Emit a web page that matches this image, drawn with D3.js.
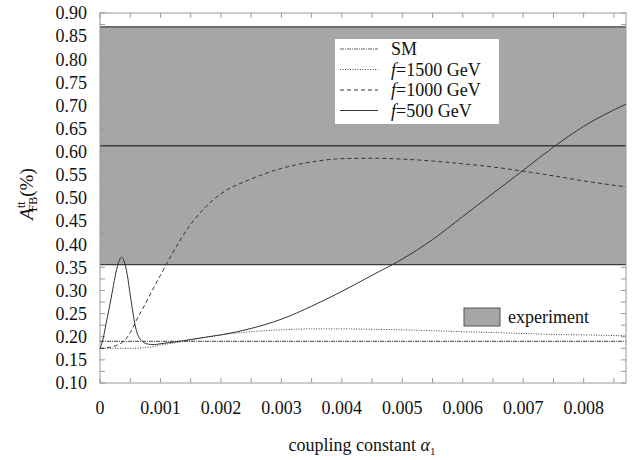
<!DOCTYPE html>
<html>
<head>
<meta charset="utf-8">
<script src="https://cdn.jsdelivr.net/npm/d3@7"></script>
<style>
  body { margin: 0; background: #fff; }
  svg, svg text, svg tspan { font-family: "Liberation Serif", "Times New Roman", Tinos, "Noto Serif", "DejaVu Serif", serif; }
</style>
</head>
<body>
<svg id="root" width="632" height="460"></svg>
<script>
// coupling constant values (x)
var alpha = [0, 0.00005, 0.0001, 0.00015, 0.0002, 0.00025, 0.0003, 0.00036, 0.0004, 0.00045,
  0.0005, 0.00055, 0.0006, 0.0007, 0.0008, 0.0009, 0.001, 0.0012, 0.0015, 0.00175, 0.002, 0.0025,
  0.003, 0.0035, 0.004, 0.0045, 0.005, 0.0055, 0.006, 0.0065, 0.007, 0.0075, 0.008, 0.0087];

var smValue = 0.19;
var f1500 = [0.175, 0.175, 0.175, 0.175, 0.175, 0.175, 0.175, 0.175, 0.175, 0.175,
  0.175, 0.175, 0.175, 0.176, 0.177, 0.179, 0.182, 0.186, 0.193, 0.199, 0.204, 0.211,
  0.215, 0.217, 0.217, 0.216, 0.215, 0.213, 0.211, 0.209, 0.207, 0.205, 0.204, 0.202];
var f1000 = [0.175, 0.175, 0.176, 0.177, 0.178, 0.180, 0.183, 0.187, 0.191, 0.199,
  0.209, 0.221, 0.235, 0.259, 0.284, 0.309, 0.333, 0.381, 0.443, 0.481, 0.509, 0.541,
  0.564, 0.578, 0.585, 0.586, 0.584, 0.580, 0.574, 0.567, 0.558, 0.548, 0.537, 0.524];
var f500 = [0.175, 0.195, 0.228, 0.260, 0.295, 0.330, 0.358, 0.372, 0.363, 0.335,
  0.290, 0.248, 0.214, 0.190, 0.184, 0.183, 0.185, 0.188, 0.194, 0.199, 0.204, 0.218,
  0.238, 0.266, 0.298, 0.333, 0.368, 0.410, 0.460, 0.510, 0.560, 0.610, 0.655, 0.703];

// experiment band: lower, central, upper
var experiment = [0.356, 0.613, 0.870];

var xTicks = [0, 0.001, 0.002, 0.003, 0.004, 0.005, 0.006, 0.007, 0.008];
var yTicks = [0.10, 0.15, 0.20, 0.25, 0.30, 0.35, 0.40, 0.45, 0.50, 0.55, 0.60, 0.65, 0.70, 0.75, 0.80, 0.85, 0.90];
var legendLabels = ["SM", "=1500 GeV", "=1000 GeV", "=500 GeV"];

var W = 632, H = 460;
var m = { left: 100, right: 6, top: 13, bottom: 77 };
var x = d3.scaleLinear().domain([0, 0.0087]).range([m.left, W - m.right]);
var y = d3.scaleLinear().domain([0.10, 0.90]).range([H - m.bottom, m.top]);

var svg = d3.select('#root');
var x0 = x.range()[0], x1 = x.range()[1], y0 = y.range()[0], y1 = y.range()[1];
var ink = '#111';

// experiment band
svg.append('rect')
  .attr('x', x0).attr('width', x1 - x0)
  .attr('y', y(experiment[2])).attr('height', y(experiment[0]) - y(experiment[2]))
  .attr('fill', '#a6a6a6');
svg.selectAll('.band-line')
  .data(experiment)
  .enter().append('line')
  .attr('x1', x0).attr('x2', x1)
  .attr('y1', function(d) { return y(d); }).attr('y2', function(d) { return y(d); })
  .attr('stroke', '#3c3c3c').attr('stroke-width', 1.4);

// frame + inside ticks on all four sides
var frameCol = '#9a9a9a';
svg.append('rect').attr('x', x0).attr('y', y1).attr('width', x1 - x0).attr('height', y0 - y1)
  .attr('fill', 'none').attr('stroke', frameCol).attr('stroke-width', 1);

var xMinor = d3.range(0, 0.00871, 0.0005);
var yMinor = d3.range(0.10, 0.9001, 0.025);
var tl = 5;
var tickG = svg.append('g').attr('stroke', frameCol).attr('stroke-width', 1);
xMinor.forEach(function(v) {
  tickG.append('line').attr('x1', x(v)).attr('x2', x(v)).attr('y1', y0).attr('y2', y0 - tl);
  tickG.append('line').attr('x1', x(v)).attr('x2', x(v)).attr('y1', y1).attr('y2', y1 + tl);
});
yMinor.forEach(function(v) {
  tickG.append('line').attr('x1', x0).attr('x2', x0 + tl).attr('y1', y(v)).attr('y2', y(v));
  tickG.append('line').attr('x1', x1).attr('x2', x1 - tl).attr('y1', y(v)).attr('y2', y(v));
});

// tick labels
svg.selectAll('.ylab').data(yTicks).enter().append('text')
  .attr('x', x0 - 13).attr('y', function(d) { return y(d); })
  .attr('dy', '0.35em').attr('text-anchor', 'end').attr('font-size', 18).attr('fill', ink)
  .text(function(d) { return d.toFixed(2); });
svg.selectAll('.xlab').data(xTicks).enter().append('text')
  .attr('x', function(d) { return x(d); }).attr('y', 414)
  .attr('text-anchor', 'middle').attr('font-size', 18).attr('fill', ink)
  .text(function(d) { return d === 0 ? '0' : d.toFixed(3); });

// curves
var line = d3.line()
  .x(function(d) { return x(d[0]); })
  .y(function(d) { return y(d[1]); })
  .curve(d3.curveMonotoneX);
function pts(vals) { return alpha.map(function(a, i) { return [a, vals[i]]; }); }

var series = [
  { data: alpha.map(function(a) { return [a, smValue]; }), color: '#666', dash: '4,1,1,1', w: 1.2 },
  { data: pts(f1500), color: '#444', dash: '1,1.5', w: 1 },
  { data: pts(f1000), color: '#333', dash: '4,3', w: 1 },
  { data: pts(f500), color: '#333', dash: null, w: 1 }
];
svg.selectAll('.curve').data(series).enter().append('path')
  .attr('fill', 'none')
  .attr('stroke', function(d) { return d.color; })
  .attr('stroke-width', function(d) { return d.w; })
  .attr('stroke-dasharray', function(d) { return d.dash; })
  .attr('d', function(d) { return line(d.data); });

// legend
var lg = svg.append('g');
lg.append('rect').attr('x', 335).attr('y', 39).attr('width', 164).attr('height', 85).attr('fill', '#fff');
legendLabels.forEach(function(lab, i) {
  var ly = 49 + i * 20.5;
  var s = series[i];
  lg.append('line').attr('x1', 340).attr('x2', 378).attr('y1', ly).attr('y2', ly)
    .attr('stroke', s.color).attr('stroke-width', s.w).attr('stroke-dasharray', s.dash);
  var t = lg.append('text').attr('x', 391).attr('y', ly + 6).attr('font-size', 18).attr('fill', ink);
  if (i > 0) t.append('tspan').attr('font-style', 'italic').text('f');
  t.append('tspan').text(lab);
});
lg.append('rect').attr('x', 464).attr('y', 308).attr('width', 36).attr('height', 18)
  .attr('fill', '#a6a6a6').attr('stroke', '#555').attr('stroke-width', 1);
lg.append('text').attr('x', 508).attr('y', 323).attr('font-size', 18).attr('fill', ink).text('experiment');

// axis titles
var xt = svg.append('text').attr('x', 362).attr('y', 451).attr('text-anchor', 'middle')
  .attr('font-size', 18).attr('fill', ink);
xt.append('tspan').text('coupling constant ');
xt.append('tspan').attr('font-style', 'italic').text('α');
xt.append('tspan').attr('dy', 4).attr('font-size', 11).text('1');

var yt = svg.append('text').attr('transform', 'translate(33,194) rotate(-90)')
  .attr('text-anchor', 'middle').attr('font-size', 19).attr('fill', ink);
yt.append('tspan').attr('font-style', 'italic').text('A');
yt.append('tspan').attr('dy', -8).attr('font-size', 12).text('tt');
yt.append('tspan').attr('dx', -10).attr('dy', 12).attr('font-size', 12).text('FB');
yt.append('tspan').attr('dy', -4).text('(%)');
</script>
</body>
</html>
